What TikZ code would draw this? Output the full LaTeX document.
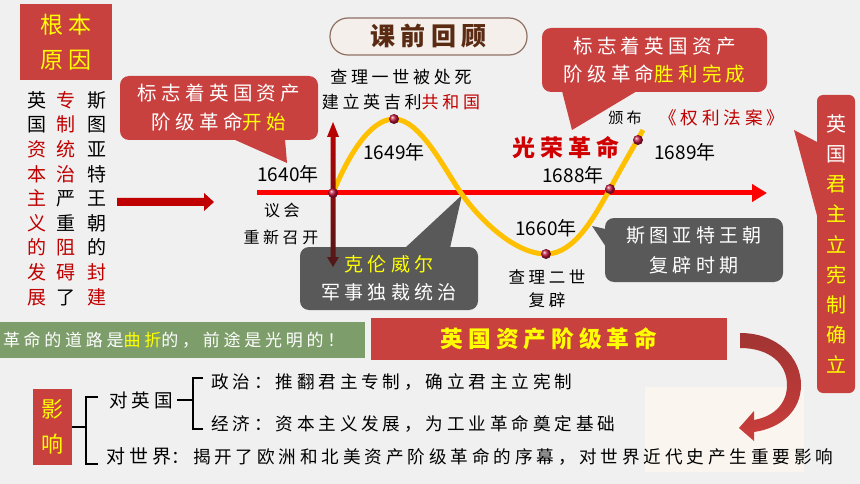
\documentclass[tikz,border=0pt]{standalone}
\usepackage{fontspec}
\usepackage{tikz}
\usetikzlibrary{arrows.meta, positioning, calc}
\setmainfont{Noto Sans CJK SC}
\newfontfamily\zh[LetterSpace=22]{Noto Sans CJK SC}
\newcommand{\zf}[1]{\zh\fontsize{#1}{#1}\selectfont}
\newcommand{\zfl}[2]{\zh\fontsize{#1}{#2}\selectfont}
\newcommand{\nf}[1]{\fontsize{#1}{#1}\selectfont}
\definecolor{bggray}{HTML}{F0F0F0}
\definecolor{boxred}{HTML}{C8413F}
\definecolor{boxgray}{HTML}{595959}
\definecolor{grn}{HTML}{7D9E6A}
\definecolor{yel}{HTML}{FFFF00}
\definecolor{dred}{HTML}{C00000}
\definecolor{gred}{HTML}{D00000}
\definecolor{curvegold}{HTML}{FFC000}
\definecolor{tlred}{HTML}{FF0000}
\definecolor{dotred}{HTML}{C0143C}
\definecolor{pillline}{HTML}{8F7163}
\definecolor{pillfill}{HTML}{F4EFEB}
\definecolor{brown}{HTML}{5A2A12}
\definecolor{beige}{HTML}{FAF6EF}
\definecolor{arrdark}{HTML}{4F1818}
\tikzstyle{redbox} = [fill=boxred, rounded corners=9pt, inner sep=0pt, align=center]
\tikzstyle{graybox} = [fill=boxgray, rounded corners=9pt, inner sep=0pt, align=center]
\tikzstyle{lbl} = [inner sep=0pt]
\tikzstyle{dot} = [circle, shade, ball color=dotred, minimum size=10pt, inner sep=0pt]
\tikzstyle{brk} = [line width=1.8pt]
\tikzstyle{pill} = [draw=pillline, line width=1.2pt, fill=pillfill, rounded corners=18pt, minimum width=197pt, minimum height=37pt, text=brown]

\begin{document}
\begin{tikzpicture}[x=1pt, y=-1pt]
            \useasboundingbox (0,0) rectangle (860,484);
            \fill[bggray] (0,0) rectangle (860,484);

            \node[pill, font=\zf{25}\bfseries] (review) at (428.5,36.5) {课前回顾};

            \node[redbox, rounded corners=0pt, minimum width=92pt, minimum height=76pt, font=\zfl{23}{35}, text=yel] (cause) at (66,42) {根本\\原因};
            \node[lbl, align=center, font=\nf{19}\fontsize{19}{24.6}\selectfont] (colA) at (37,198.5) {英\\国\\\textcolor{dred}{资}\\\textcolor{dred}{本}\\\textcolor{dred}{主}\\\textcolor{dred}{义}\\\textcolor{dred}{的}\\\textcolor{dred}{发}\\\textcolor{dred}{展}};
            \node[lbl, align=center, font=\fontsize{19}{24.6}\selectfont] (colB) at (66,198.5) {\textcolor{dred}{专}\\\textcolor{dred}{制}\\\textcolor{dred}{统}\\\textcolor{dred}{治}\\严\\重\\\textcolor{dred}{阻}\\\textcolor{dred}{碍}\\了};
            \node[lbl, align=center, font=\fontsize{19}{24.6}\selectfont] (colC) at (97,198.5) {斯\\图\\亚\\特\\王\\朝\\的\\\textcolor{dred}{封}\\\textcolor{dred}{建}};
            \fill[dred] (117,198) -- (204,198) -- (204,193) -- (214,202) -- (204,211) -- (204,206) -- (117,206) -- cycle;

            \node[redbox, minimum width=198pt, minimum height=64pt, font=\zfl{19.5}{29}, text=white] (startnote) at (219,108) {标志着英国资产\\阶级革命\textcolor{yel}{开始}};
            \fill[boxred] (233,139) -- (287,163) -- (285,139) -- cycle;

            \node[redbox, minimum width=225pt, minimum height=64pt, font=\zfl{19.5}{28}, text=white] (endnote) at (654.5,60) {标志着英国资产\\阶级革命\textcolor{yel}{胜利完成}};
            \fill[boxred] (562,91) -- (572,130) -- (637,91) -- cycle;

            \node[redbox, rounded corners=6pt, minimum width=38pt, minimum height=298pt, font=\fontsize{20}{30.1}\selectfont, text=yel] (rightbox) at (836,244) {\textcolor{white}{英}\\\textcolor{white}{国}\\君\\主\\立\\宪\\制\\确\\立};
            \fill[boxred] (819,143) -- (794,130) -- (819,223) -- cycle;

            \node[graybox, minimum width=178pt, minimum height=63pt, font=\zfl{19}{28}, text=white] (cromwell) at (389,278.5) {\textcolor{yel}{克伦威尔}\\军事独裁统治};
            \fill[boxgray] (405,248) -- (462,195) -- (450,248) -- cycle;
            \node[graybox, minimum width=178pt, minimum height=64pt, font=\zfl{19}{30}, text=white] (restore) at (694,250) {斯图亚特王朝\\复辟时期};
            \fill[boxgray] (610,230) -- (592,226) -- (612,256) -- cycle;

            \coordinate (tl0) at (257,193);
            \coordinate (tl1) at (767,193);
            \draw[tlred, line width=5pt, -{Triangle[length=15pt, width=17pt]}] (tl0) -- (tl1);

            \coordinate (p1640) at (333,193);
            \coordinate (p1649) at (394,119);
            \coordinate (pmid) at (461,193);
            \coordinate (p1660) at (546,254);
            \coordinate (p1688) at (610,189);
            \coordinate (p1689) at (638,140);
            \coordinate (pend) at (643,130);
            \draw[curvegold, line width=5pt] (p1640) .. controls (345,163) and (368,119) .. (p1649) .. controls (420,119) and (445,170) .. (pmid) .. controls (480,220) and (515,254) .. (p1660) .. controls (575,254) and (595,215) .. (p1688) .. controls (622,166) and (632,150) .. (pend);

            \shade[top color=dred, middle color=dred, bottom color=arrdark] (333,122) -- (339,137) -- (335.5,137) -- (335.5,257) -- (339,257) -- (333,267) -- (327,257) -- (330.5,257) -- (330.5,137) -- (327,137) -- cycle;

            \foreach \p in {p1640, p1649, p1660, p1688, p1689}
                \node[dot] at (\p) {};

            \node[lbl, font=\zf{17}] (death) at (401,77) {查理一世被处死};
            \node[lbl, font=\zf{17}] (republic) at (401,102) {建立英吉利\textcolor{dred}{共和国}};
            \node[lbl, font=\nf{19}] (y1649) at (394,152) {1649年};
            \node[lbl, font=\nf{19}] (y1640) at (288,174) {1640年};
            \node[lbl, font=\zf{16}] (parl) at (282,210) {议会};
            \node[lbl, font=\zf{16}] (reopen) at (281,237) {重新召开};
            \node[lbl, font=\zf{23}\bfseries, text=gred] (glorious) at (566,148) {光荣革命};
            \node[lbl, font=\nf{19}] (y1688) at (573,175) {1688年};
            \node[lbl, font=\nf{19}] (y1660) at (546,228) {1660年};
            \node[lbl, font=\zf{16.5}] (charles) at (547,277) {查理二世};
            \node[lbl, font=\zf{16.5}] (restor) at (547,300) {复辟};
            \node[lbl, font=\zf{15}] (issue) at (625,118) {颁布};
            \node[lbl, font=\zf{17.6}, text=dred] (rights) at (722,118) {《权利法案》};
            \node[lbl, font=\nf{19}] (y1689) at (685,152) {1689年};

            \node[fill=grn, minimum width=365pt, minimum height=36pt, inner sep=0pt] (roadbar) at (182.5,340) {};
            \node[lbl, anchor=west, font=\zf{17}, text=white] (road) at ([xshift=3pt]roadbar.west) {革命的道路是\textcolor{yel}{曲折}的，前途是光明的！};
            \node[fill=boxred, minimum width=356pt, minimum height=42pt, inner sep=0pt, font=\zf{22.7}\bfseries, text=yel] (revbar) at (549,339) {英国资产阶级革命};

            \fill[beige] (645,387) rectangle (804,472);
            \shade[top color=boxred!80!black, bottom color=boxred!95!red] (740,333) .. controls (778,333) and (801,358) .. (801,385) .. controls (801,410) and (782,428) .. (754,432) -- (754,441) -- (739,428) -- (754,411) -- (754,420) .. controls (776,416) and (787,402) .. (787,385) .. controls (787,364) and (770,348) .. (740,348) -- cycle;

            \node[fill=boxred, minimum width=39pt, minimum height=76pt, inner sep=0pt, align=center, font=\fontsize{22}{35}\selectfont, text=yel] (yx) at (52.5,427) {影\\响};
            \node[lbl, font=\zf{18.6}] (dyg) at (141,400) {对英国};
            \node[lbl, anchor=west, font=\zf{17.6}] (polit) at (211,382) {政治：推翻君主专制，确立君主立宪制};
            \node[lbl, anchor=west, font=\zf{17.6}] (econ) at (211,424) {经济：资本主义发展，为工业革命奠定基础};
            \node[lbl, anchor=west] (dsj) at (106,456) {{\zf{19}对世界}{\zf{17.6}：揭开了欧洲和北美资产阶级革命的序幕，对世界近代史产生重要影响}};

            \coordinate (bkA) at (86,397);
            \coordinate (bkB) at (86,464);
            \draw[brk] (yx.east) -- (yx.east -| bkA);
            \draw[brk] ([xshift=12pt]bkA) -- (bkA) -- (bkB) -- ([xshift=12pt]bkB);
            \coordinate (bkC) at (193,378);
            \coordinate (bkD) at (193,429);
            \draw[brk] ([xshift=4pt]dyg.east) -- (dyg.east -| bkC);
            \draw[brk] ([xshift=10pt]bkC) -- (bkC) -- (bkD) -- ([xshift=10pt]bkD);
        \end{tikzpicture}
\end{document}
